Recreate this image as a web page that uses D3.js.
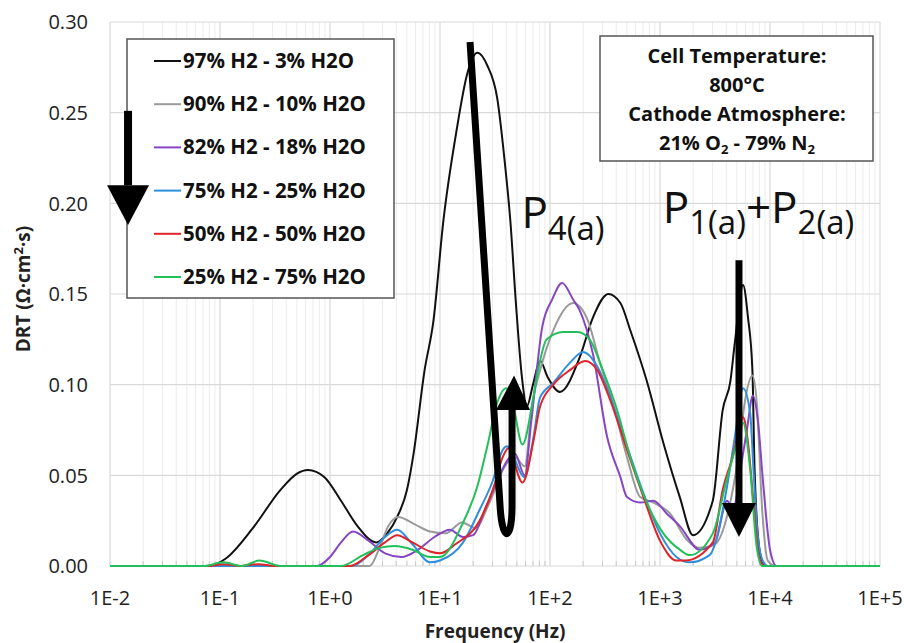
<!DOCTYPE html>
<html>
<head>
<meta charset="utf-8">
<script src="https://cdn.jsdelivr.net/npm/d3@7"></script>
<style>
  body { margin: 0; background: #fff; }
  svg { font-family: "Open Sans", sans-serif; }
</style>
</head>
<body>
<div id="chart"></div>
<script>
// data: [log10(frequency / Hz), DRT in ohm.cm2.s]
const black = [[-2,0],[-1.1,0],[-0.95,0.004],[-0.7,0.021],[-0.45,0.042],[-0.3,0.051],[-0.2,0.053],[-0.05,0.049],[0.1,0.036],[0.25,0.022],[0.42,0.013],[0.52,0.018],[0.61,0.027],[0.7,0.042],[0.76,0.062],[0.86,0.108],[0.94,0.135],[1.03,0.19],[1.15,0.24],[1.25,0.272],[1.34,0.283],[1.43,0.276],[1.52,0.258],[1.59,0.222],[1.64,0.19],[1.69,0.145],[1.745,0.104],[1.79,0.088],[1.845,0.1],[1.91,0.113],[1.98,0.104],[2.09,0.096],[2.27,0.115],[2.39,0.137],[2.53,0.15],[2.64,0.145],[2.73,0.13],[2.88,0.102],[3.03,0.068],[3.18,0.038],[3.3,0.017],[3.48,0.036],[3.57,0.086],[3.64,0.102],[3.68,0.123],[3.755,0.155],[3.8,0.137],[3.84,0.108],[3.86,0.053],[3.91,0.007],[3.96,0],[5,0]];
const gray = [[-2,0],[0.36,0],[0.45,0.01],[0.53,0.022],[0.62,0.027],[0.77,0.023],[0.91,0.019],[1.05,0.018],[1.2,0.024],[1.32,0.021],[1.45,0.035],[1.59,0.055],[1.68,0.06],[1.77,0.055],[1.84,0.09],[1.91,0.108],[2.03,0.13],[2.21,0.145],[2.34,0.136],[2.45,0.113],[2.57,0.09],[2.7,0.06],[2.82,0.038],[2.94,0.035],[3.09,0.029],[3.25,0.014],[3.36,0.01],[3.5,0.012],[3.62,0.03],[3.71,0.06],[3.77,0.09],[3.84,0.105],[3.88,0.09],[3.93,0.03],[3.98,0.003],[4.05,0],[5,0]];
const purple = [[-2,0],[-0.12,0],[0,0.005],[0.1,0.013],[0.21,0.019],[0.35,0.014],[0.5,0.007],[0.65,0.005],[0.8,0.009],[0.95,0.016],[1.09,0.02],[1.21,0.016],[1.3,0.017],[1.42,0.033],[1.52,0.047],[1.61,0.058],[1.68,0.062],[1.77,0.05],[1.83,0.08],[1.93,0.132],[2.02,0.147],[2.11,0.156],[2.21,0.147],[2.27,0.141],[2.39,0.117],[2.52,0.071],[2.64,0.049],[2.7,0.038],[2.82,0.035],[2.94,0.036],[3.06,0.029],[3.18,0.022],[3.36,0.009],[3.5,0.013],[3.61,0.036],[3.66,0.031],[3.755,0.062],[3.79,0.075],[3.845,0.094],[3.89,0.08],[3.94,0.044],[4.0,0.009],[4.06,0],[5,0]];
const blue = [[-2,0],[0.2,0],[0.35,0.006],[0.5,0.016],[0.61,0.02],[0.75,0.012],[0.91,0.002],[1.0,0.003],[1.21,0.013],[1.36,0.031],[1.48,0.047],[1.57,0.064],[1.61,0.066],[1.77,0.049],[1.85,0.071],[1.91,0.093],[2.03,0.101],[2.18,0.112],[2.3,0.118],[2.43,0.11],[2.55,0.093],[2.7,0.066],[2.85,0.04],[3.0,0.018],[3.15,0.005],[3.27,0.002],[3.45,0.006],[3.61,0.044],[3.68,0.071],[3.755,0.098],[3.82,0.084],[3.85,0.053],[3.89,0.016],[3.94,0.002],[3.98,0],[5,0]];
const red = [[-2,0],[-1.1,0],[-0.97,0.001],[-0.82,0],[-0.65,0.001],[-0.5,0],[0.18,0],[0.35,0.006],[0.5,0.013],[0.61,0.017],[0.75,0.013],[0.91,0.008],[1.0,0.007],[1.14,0.012],[1.36,0.025],[1.48,0.042],[1.57,0.06],[1.62,0.065],[1.75,0.046],[1.85,0.069],[1.91,0.088],[2.03,0.1],[2.18,0.108],[2.32,0.113],[2.43,0.108],[2.55,0.091],[2.7,0.064],[2.85,0.038],[3.0,0.014],[3.15,0.003],[3.23,0.003],[3.48,0.013],[3.57,0.042],[3.66,0.06],[3.755,0.082],[3.8,0.068],[3.85,0.035],[3.9,0.005],[3.95,0],[5,0]];
const green = [[-2,0],[-1.15,0],[-0.97,0.002],[-0.8,0],[-0.64,0.003],[-0.45,0],[0.1,0],[0.3,0.006],[0.45,0.01],[0.59,0.011],[0.75,0.009],[0.91,0.005],[1.0,0.005],[1.21,0.024],[1.34,0.044],[1.43,0.066],[1.52,0.09],[1.6,0.098],[1.66,0.09],[1.75,0.067],[1.84,0.09],[1.88,0.104],[1.97,0.125],[2.12,0.129],[2.25,0.129],[2.36,0.125],[2.48,0.108],[2.61,0.086],[2.73,0.06],[2.88,0.035],[3.03,0.018],[3.18,0.009],[3.27,0.006],[3.48,0.018],[3.6,0.046],[3.69,0.066],[3.755,0.079],[3.82,0.053],[3.88,0.01],[3.93,0],[5,0]];

const seriesNames = ["97% H2 - 3% H2O", "90% H2 - 10% H2O", "82% H2 - 18% H2O",
                     "75% H2 - 25% H2O", "50% H2 - 50% H2O", "25% H2 - 75% H2O"];
const seriesData = [black, gray, purple, blue, red, green];
const seriesColors = ["#111111", "#9a9a9a", "#8646c4", "#2f8fdc", "#e0242a", "#22c05a"];

const xTicks = [1e-2, 1e-1, 1e0, 1e1, 1e2, 1e3, 1e4, 1e5];
const yTicks = [0, 0.05, 0.10, 0.15, 0.20, 0.25, 0.30];
const infoLines = ["Cell Temperature:", "800°C", "Cathode Atmosphere:"];

const W = 904, H = 643;
const svg = d3.select("#chart").append("svg").attr("width", W).attr("height", H);

const x = d3.scaleLog().domain([1e-2, 1e5]).range([110, 880]);
const y = d3.scaleLinear().domain([0, 0.30]).range([566, 22]);

// grid: minor log lines, then major
const minor = [];
for (let e = -2; e < 5; e++) for (let k = 2; k <= 9; k++) minor.push(k * Math.pow(10, e));
const grid = svg.append("g");
grid.selectAll(".minor").data(minor).join("line")
  .attr("x1", d => x(d)).attr("x2", d => x(d))
  .attr("y1", y(0)).attr("y2", y(0.30))
  .attr("stroke", "#ececec").attr("stroke-width", 1);
grid.selectAll(".major").data(xTicks).join("line")
  .attr("x1", d => x(d)).attr("x2", d => x(d))
  .attr("y1", y(0)).attr("y2", y(0.30))
  .attr("stroke", "#d9d9d9").attr("stroke-width", 1.2);
grid.selectAll(".hgrid").data(yTicks).join("line")
  .attr("x1", x(1e-2)).attr("x2", x(1e5))
  .attr("y1", d => y(d)).attr("y2", d => y(d))
  .attr("stroke", "#d9d9d9").attr("stroke-width", 1.2);
// small ticks at the bottom
grid.selectAll(".mtick").data(minor).join("line")
  .attr("x1", d => x(d)).attr("x2", d => x(d))
  .attr("y1", y(0)).attr("y2", y(0) - 5)
  .attr("stroke", "#c8c8c8").attr("stroke-width", 1);

// axes labels
svg.append("g").selectAll("text").data(yTicks).join("text")
  .attr("x", 88).attr("y", d => y(d)).attr("dy", "0.36em")
  .attr("text-anchor", "end").attr("font-size", 20).attr("fill", "#222")
  .text(d3.format(".2f"));

const fmtX = d => { const e = Math.round(Math.log10(d)); return "1E" + (e < 0 ? e : "+" + e); };
svg.append("g").selectAll("text").data(xTicks).join("text")
  .attr("x", d => x(d)).attr("y", 605)
  .attr("text-anchor", "middle").attr("font-size", 20).attr("fill", "#222")
  .text(fmtX);

svg.append("text").attr("x", 495).attr("y", 638).attr("text-anchor", "middle")
  .attr("font-size", 19).attr("font-weight", "bold").attr("fill", "#222")
  .text("Frequency (Hz)");

const yTitle = svg.append("text").attr("transform", "translate(30,289) rotate(-90)")
  .attr("text-anchor", "middle").attr("font-size", 19).attr("font-weight", "bold").attr("fill", "#222");
yTitle.append("tspan").text("DRT (Ω·cm");
yTitle.append("tspan").attr("dy", -7).attr("font-size", 13).text("2");
yTitle.append("tspan").attr("dy", 7).text("·s)");

// curves
const line = d3.line()
  .x(d => x(Math.pow(10, d[0])))
  .y(d => y(d[1]))
  .curve(d3.curveMonotoneX);

svg.append("g").selectAll("path").data(seriesData).join("path")
  .attr("d", line)
  .attr("fill", "none")
  .attr("stroke", (d, i) => seriesColors[i])
  .attr("stroke-width", 2)
  .attr("stroke-linejoin", "round");

// legend
const lg = svg.append("g");
lg.append("rect").attr("x", 127).attr("y", 39).attr("width", 267).attr("height", 259)
  .attr("fill", "#fff").attr("stroke", "#555").attr("stroke-width", 1.5);
seriesNames.forEach((name, i) => {
  const yy = 61 + i * 43.2;
  lg.append("line").attr("x1", 154).attr("x2", 181).attr("y1", yy).attr("y2", yy)
    .attr("stroke", seriesColors[i]).attr("stroke-width", 2);
  lg.append("text").attr("x", 183).attr("y", yy + 7).attr("font-size", 20.5)
    .attr("font-weight", "bold").attr("fill", "#111").text(name);
});

// info box
const ib = svg.append("g");
ib.append("rect").attr("x", 600).attr("y", 36).attr("width", 273).attr("height", 125)
  .attr("fill", "#fff").attr("stroke", "#555").attr("stroke-width", 1.5);
infoLines.forEach((t, i) => {
  ib.append("text").attr("x", 737).attr("y", 63 + i * 29).attr("text-anchor", "middle")
    .attr("font-size", 20).attr("font-weight", "bold").attr("fill", "#111").text(t);
});
const atm = ib.append("text").attr("x", 737).attr("y", 150).attr("text-anchor", "middle")
  .attr("font-size", 20).attr("font-weight", "bold").attr("fill", "#111");
atm.append("tspan").text("21% O");
atm.append("tspan").attr("font-size", 13).attr("dy", 4).text("2");
atm.append("tspan").attr("dy", -4).text(" - 79% N");
atm.append("tspan").attr("font-size", 13).attr("dy", 4).text("2");

// peak labels
function peakLabel(px, py, parts) {
  const t = svg.append("text").attr("x", px).attr("y", py).attr("fill", "#111");
  parts.forEach(p => {
    t.append("tspan").attr("font-size", p[1] ? 33 : 44).attr("dy", p[2]).text(p[0]);
  });
}
peakLabel(x(Math.pow(10, 1.74)), 228, [["P", false, 0], ["4(a)", true, 12]]);
peakLabel(x(Math.pow(10, 3.025)), 223, [["P", false, 0], ["1(a)", true, 11], ["+", false, -11],
                                         ["P", false, 0], ["2(a)", true, 11]]);

// arrows (anchors in data units)
const arrowDown = { f: Math.pow(10, 3.718), top: 0.1686, base: 0.0347, tip: 0.016 };
const arrowLegend = { f: Math.pow(10, -1.836), top: 0.251, base: 0.21, tip: 0.188 };
const arrowP4 = { top: [Math.pow(10, 1.273), 0.289], turn: [Math.pow(10, 1.573), 0.017],
                  up: Math.pow(10, 1.655), base: 0.086, tip: 0.105 };

function straightArrow(a, half, sw) {
  const ax = x(a.f);
  svg.append("line").attr("x1", ax).attr("x2", ax).attr("y1", y(a.top)).attr("y2", y(a.base))
    .attr("stroke", "#000").attr("stroke-width", sw);
  svg.append("path")
    .attr("d", `M${ax - half},${y(a.base)}L${ax + half},${y(a.base)}L${ax},${y(a.tip)}Z`)
    .attr("fill", "#000");
}
straightArrow(arrowDown, 17, 7);
straightArrow(arrowLegend, 21, 8);

{
  const tx = x(arrowP4.top[0]), ty = y(arrowP4.top[1]);
  const bx = x(arrowP4.turn[0]), by = y(arrowP4.turn[1]);
  const ux = x(arrowP4.up), uy = y(arrowP4.base);
  const p = d3.path();
  p.moveTo(tx, ty);
  p.lineTo(bx - 3, by - 30);
  p.bezierCurveTo(bx - 1, by + 8, ux, by + 8, ux, by - 30);
  p.lineTo(ux, uy);
  svg.append("path").attr("d", p.toString()).attr("fill", "none")
    .attr("stroke", "#000").attr("stroke-width", 7).attr("stroke-linejoin", "round");
  svg.append("path")
    .attr("d", `M${ux - 16},${uy}L${ux + 18},${uy}L${ux + 2},${y(arrowP4.tip)}Z`)
    .attr("fill", "#000");
}
</script>
</body>
</html>
